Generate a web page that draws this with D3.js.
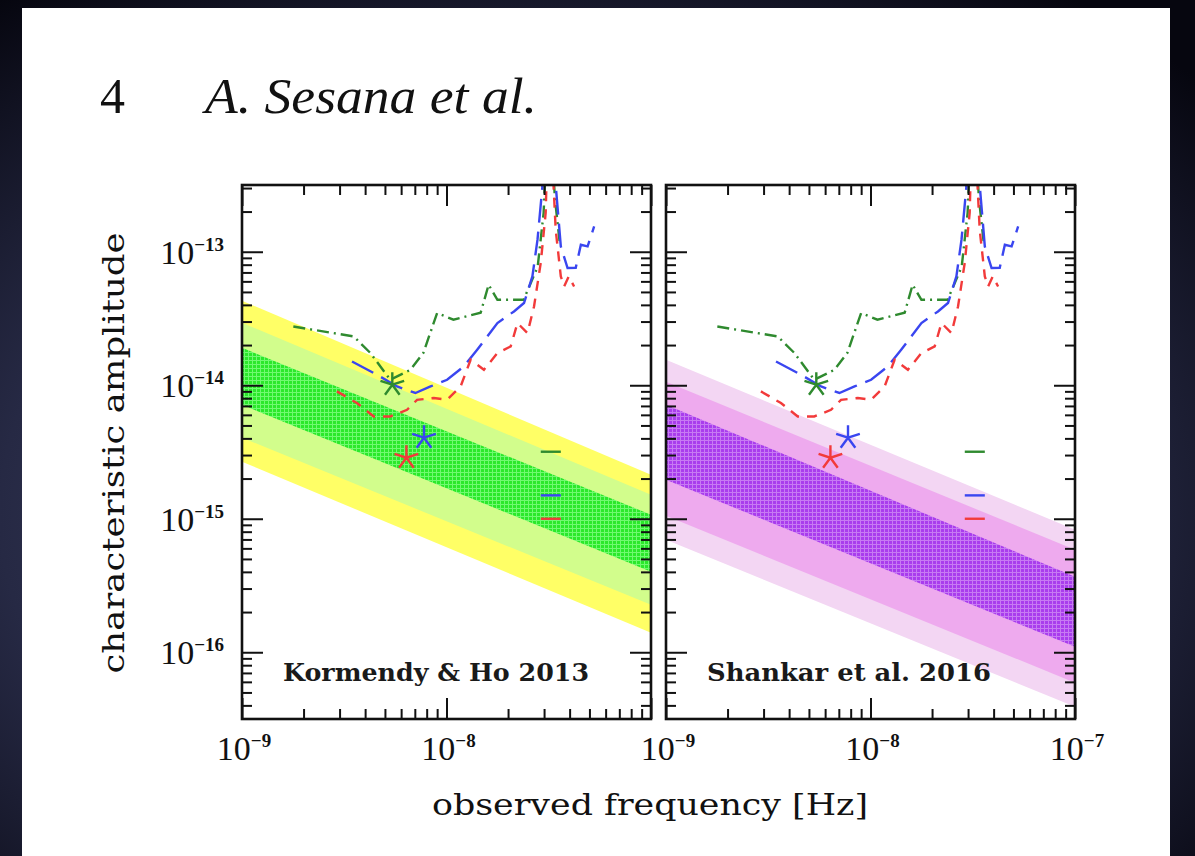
<!DOCTYPE html>
<html>
<head>
<meta charset="utf-8">
<script src="https://cdn.jsdelivr.net/npm/d3@7"></script>
<style>
  html, body { margin: 0; padding: 0; background: #0a0a18; }
  svg { display: block; }
</style>
</head>
<body>
<div id="chart"></div>
<script>
// everything, stored as log10 values

const panelNames = ["Kormendy & Ho 2013", "Shankar et al. 2016"];

// band edges (log10 h) at f = 1e-9 and at f = 1e-7
// order: outer top, middle top, inner top, inner bottom, middle bottom, outer bottom
const kormendyAtLow = [-13.367, -13.532, -13.719, -14.146, -14.393, -14.573];
const kormendyAtHigh = [-14.670, -14.820, -14.970, -15.397, -15.644, -15.854];
const shankarAtLow = [-13.809, -13.974, -14.146, -14.708, -14.978, -15.157];
const shankarAtHigh = [-15.082, -15.232, -15.434, -15.959, -16.228, -16.408];

// sensitivity curves, [log10 f, log10 h]
const greenCurve = [[-8.749,-13.560],[-8.454,-13.634],[-8.373,-13.757],[-8.275,-13.959],[-8.176,-13.884],
  [-8.113,-13.757],[-8.046,-13.459],[-7.966,-13.509],[-7.833,-13.457],[-7.794,-13.247],[-7.751,-13.360],
  [-7.623,-13.360],[-7.554,-13.112],[-7.525,-12.708],[-7.499,-11.8],[-7.470,-12.60],[-7.445,-12.95]];
const blueCurve = [[-8.462,-13.822],[-8.340,-13.921],[-8.242,-14.009],[-8.152,-14.058],[-8.078,-14.009],
  [-7.997,-13.959],[-7.915,-13.859],[-7.850,-13.734],[-7.800,-13.634],[-7.751,-13.534],[-7.670,-13.447],
  [-7.621,-13.384],[-7.580,-13.185],[-7.555,-12.910],[-7.531,-12.511],[-7.499,-11.8],[-7.466,-12.5],
  [-7.441,-12.960],[-7.408,-13.122],[-7.368,-13.120],[-7.343,-12.948],[-7.310,-12.960],[-7.278,-12.810]];
const redCurve = [[-8.536,-14.046],[-8.438,-14.133],[-8.356,-14.234],[-8.275,-14.234],[-8.193,-14.184],
  [-8.144,-14.109],[-8.062,-14.096],[-7.997,-14.109],[-7.931,-14.009],[-7.882,-13.809],[-7.817,-13.884],
  [-7.751,-13.759],[-7.686,-13.709],[-7.653,-13.534],[-7.604,-13.609],[-7.572,-13.410],[-7.539,-13.082],
  [-7.515,-12.708],[-7.499,-11.8],[-7.466,-12.835],[-7.441,-13.185],[-7.425,-13.260],[-7.402,-13.185],
  [-7.376,-13.260]];

// stars [log10 f, log10 h] (green, blue, red)
const starPoints = [[-8.265, -13.996], [-8.110, -14.393], [-8.196, -14.543]];
// short horizontal marks near 1/yr (green, blue, red)
const markFreq = [-7.539, -7.441];
const markLevels = [-14.498, -14.825, -15.0];

const curveColors = ["#2f8a2f", "#3a46f0", "#f23a3a"];

const width = 1195, height = 856;
const plotTop = 185, plotBottom = 719;
const panelLeft = [242, 666], panelWidth = 409;

const svg = d3.select("#chart").append("svg")
  .attr("width", width).attr("height", height);

const defs = svg.append("defs");

// slide background
const bg = defs.append("radialGradient").attr("id", "bg").attr("cx", "0.45").attr("cy", "0.6").attr("r", "0.75");
bg.append("stop").attr("offset", "0").attr("stop-color", "#4a4f72");
bg.append("stop").attr("offset", "0.6").attr("stop-color", "#262944");
bg.append("stop").attr("offset", "1").attr("stop-color", "#06060f");
svg.append("rect").attr("width", width).attr("height", height).attr("fill", "url(#bg)");
svg.append("rect").attr("x", 22).attr("y", 8).attr("width", 1148).attr("height", 860).attr("fill", "#ffffff");

// crosshatch fills for the inner bands
const hatch = (id, base, line) => {
  const p = defs.append("pattern").attr("id", id).attr("width", 4).attr("height", 4)
    .attr("patternUnits", "userSpaceOnUse");
  p.append("rect").attr("width", 4).attr("height", 4).attr("fill", base);
  p.append("path").attr("d", "M0 0.5H4M0.5 0V4").attr("stroke", line).attr("stroke-width", 1);
};
hatch("hatchGreen", "#2be82b", "#70fa70");
hatch("hatchPurple", "#a93ded", "#c77af3");

// title
svg.append("text").attr("x", 100).attr("y", 113)
  .attr("font-family", "Liberation Serif").attr("font-size", 50).attr("fill", "#111").text("4");
svg.append("text").attr("x", 205).attr("y", 113)
  .attr("font-family", "Liberation Serif").attr("font-style", "italic").attr("font-size", 51)
  .attr("textLength", 332).attr("lengthAdjust", "spacingAndGlyphs").attr("fill", "#111")
  .text("A. Sesana et al.");

const yScale = d3.scaleLog().domain([Math.pow(10, -16.5), Math.pow(10, -12.5)]).range([plotBottom, plotTop]);

const isMajor = v => Math.abs(Math.log10(v) - Math.round(Math.log10(v))) < 1e-6;

// five armed asterisk like the plotting package uses
const asterisk = {
  draw(context, size) {
    const r = Math.sqrt(size) / 2;
    for (let i = 0; i < 5; i++) {
      const a = i * 2 * Math.PI / 5;
      context.moveTo(0, 0);
      context.lineTo(r * Math.sin(a), -r * Math.cos(a));
    }
  }
};

const superLabel = (sel, exp) => {
  sel.append("tspan").text("10");
  sel.append("tspan").attr("dy", -13).attr("font-size", 19).attr("font-weight", "bold").text("\u2212" + exp);
};

const drawPanel = (i, atLow, atHigh, fills) => {
  const x0 = panelLeft[i];
  const xScale = d3.scaleLog().domain([1e-9, 1e-7]).range([x0, x0 + panelWidth]);
  const px = d => xScale(Math.pow(10, d[0]));
  const py = d => yScale(Math.pow(10, d[1]));

  const clipId = "clip" + i;
  defs.append("clipPath").attr("id", clipId).append("rect")
    .attr("x", x0).attr("y", plotTop).attr("width", panelWidth).attr("height", plotBottom - plotTop);

  const g = svg.append("g").attr("clip-path", "url(#" + clipId + ")");

  // nested bands: outer, middle, inner
  [[0, 5], [1, 4], [2, 3]].forEach((pair, k) => {
    const poly = [[-9, atLow[pair[0]]], [-7, atHigh[pair[0]]], [-7, atHigh[pair[1]]], [-9, atLow[pair[1]]]];
    g.append("path")
      .attr("d", d3.line().x(px).y(py)(poly) + "Z")
      .attr("fill", fills[k]);
  });

  const line = d3.line().x(px).y(py);
  const dashes = ["12,5,2,5", "24,9", "10,8"];
  [greenCurve, blueCurve, redCurve].forEach((c, k) => {
    g.append("path").attr("d", line(c))
      .attr("fill", "none").attr("stroke", curveColors[k])
      .attr("stroke-width", 2.4).attr("stroke-dasharray", dashes[k]);
  });

  starPoints.forEach((s, k) => {
    g.append("path")
      .attr("d", d3.symbol().type(asterisk).size(620)())
      .attr("transform", "translate(" + px(s) + "," + py(s) + ")")
      .attr("fill", "none").attr("stroke", curveColors[k]).attr("stroke-width", 2.4);
  });

  markLevels.forEach((m, k) => {
    g.append("line")
      .attr("x1", px([markFreq[0], m])).attr("x2", px([markFreq[1], m]))
      .attr("y1", py([0, m])).attr("y2", py([0, m]))
      .attr("stroke", curveColors[k]).attr("stroke-width", 2.4);
  });

  // ticks, pointing inward on all four sides
  const xTicks = xScale.ticks();
  const yTicks = yScale.ticks();
  const axes = svg.append("g").attr("class", "axes");
  const addAxis = (axisFn, scale, vals, size, transform) => {
    const a = axes.append("g").attr("transform", transform)
      .call(axisFn(scale).tickValues(vals).tickSizeInner(size).tickSizeOuter(0).tickFormat(""));
    a.select(".domain").remove();
    a.selectAll("line").attr("stroke", "#111").attr("stroke-width", 2);
  };
  const xMaj = xTicks.filter(isMajor), xMin = xTicks.filter(v => !isMajor(v));
  const yMaj = yTicks.filter(isMajor), yMin = yTicks.filter(v => !isMajor(v));
  addAxis(d3.axisBottom, xScale, xMaj, -21, "translate(0," + plotBottom + ")");
  addAxis(d3.axisBottom, xScale, xMin, -10, "translate(0," + plotBottom + ")");
  addAxis(d3.axisTop, xScale, xMaj, -21, "translate(0," + plotTop + ")");
  addAxis(d3.axisTop, xScale, xMin, -10, "translate(0," + plotTop + ")");
  addAxis(d3.axisLeft, yScale, yMaj, -21, "translate(" + x0 + ",0)");
  addAxis(d3.axisLeft, yScale, yMin, -10, "translate(" + x0 + ",0)");
  addAxis(d3.axisRight, yScale, yMaj, -21, "translate(" + (x0 + panelWidth) + ",0)");
  addAxis(d3.axisRight, yScale, yMin, -10, "translate(" + (x0 + panelWidth) + ",0)");

  svg.append("rect").attr("x", x0).attr("y", plotTop)
    .attr("width", panelWidth).attr("height", plotBottom - plotTop)
    .attr("fill", "none").attr("stroke", "#111").attr("stroke-width", 2.6);

  // x tick labels (left panel skips its last one, the right panel shows it)
  const xLabelVals = i === 0 ? xMaj.slice(0, -1) : xMaj;
  xLabelVals.forEach(v => {
    svg.append("text").attr("x", xScale(v) + 2).attr("y", 760)
      .attr("text-anchor", "middle").attr("font-family", "Liberation Serif")
      .attr("font-size", 34).attr("fill", "#111")
      .call(superLabel, Math.round(-Math.log10(v)));
  });

  if (i === 0) {
    yMaj.forEach(v => {
      svg.append("text").attr("x", 224).attr("y", yScale(v) + 12)
        .attr("text-anchor", "end").attr("font-family", "Liberation Serif")
        .attr("font-size", 34).attr("fill", "#111")
        .call(superLabel, Math.round(-Math.log10(v)));
    });
  }

  svg.append("text").attr("x", x0 + 41).attr("y", 681)
    .attr("font-family", "DejaVu Serif").attr("font-size", 25).attr("font-weight", "bold")
    .attr("textLength", i === 0 ? 306 : 284).attr("lengthAdjust", "spacingAndGlyphs")
    .attr("fill", "#1a1a1a").text(panelNames[i]);
};

drawPanel(0, kormendyAtLow, kormendyAtHigh, ["#ffff66", "#d2fd8c", "url(#hatchGreen)"]);
drawPanel(1, shankarAtLow, shankarAtHigh, ["#f3d6f3", "#eeaaee", "url(#hatchPurple)"]);

// axis titles
svg.append("text").attr("x", 650).attr("y", 815).attr("text-anchor", "middle")
  .attr("font-family", "DejaVu Serif").attr("font-size", 30)
  .attr("textLength", 436).attr("lengthAdjust", "spacingAndGlyphs")
  .attr("fill", "#111").text("observed frequency [Hz]");
svg.append("text").attr("transform", "translate(124,453) rotate(-90)").attr("text-anchor", "middle")
  .attr("font-family", "DejaVu Serif").attr("font-size", 30)
  .attr("textLength", 441).attr("lengthAdjust", "spacingAndGlyphs")
  .attr("fill", "#111").text("characteristic amplitude");
</script>
</body>
</html>
